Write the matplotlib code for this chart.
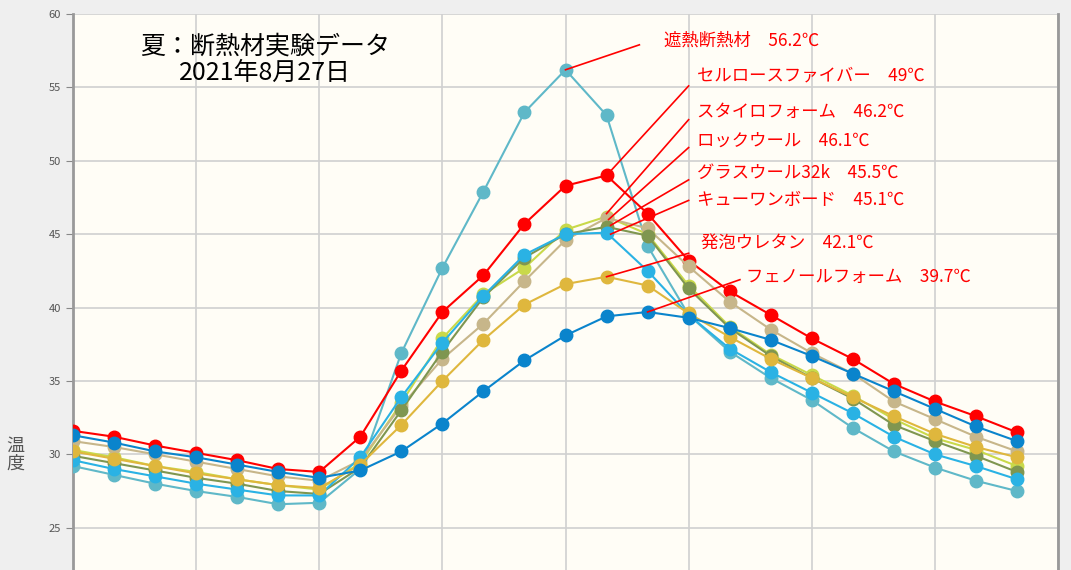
import matplotlib
matplotlib.use("Agg")
import matplotlib.pyplot as plt

plt.rcParams["font.family"] = "Noto Sans CJK JP"

hours = list(range(24))

names = ["遮熱断熱材", "セルロースファイバー", "スタイロフォーム", "ロックウール",
         "グラスウール32k", "キューワンボード", "発泡ウレタン", "フェノールフォーム"]
peaks = ["56.2℃", "49℃", "46.2℃", "46.1℃", "45.5℃", "45.1℃", "42.1℃", "39.7℃"]

shanetsu = [29.2, 28.6, 28.0, 27.5, 27.1, 26.6, 26.7, 29.0, 36.9, 42.7, 47.9, 53.3,
            56.2, 53.1, 44.2, 39.5, 37.0, 35.2, 33.7, 31.8, 30.2, 29.1, 28.2, 27.5]
cellulose = [31.6, 31.2, 30.6, 30.1, 29.6, 29.0, 28.8, 31.2, 35.7, 39.7, 42.2, 45.7,
             48.3, 49.0, 46.4, 43.2, 41.1, 39.5, 37.9, 36.5, 34.8, 33.6, 32.6, 31.5]
styro = [30.3, 29.8, 29.2, 28.8, 28.3, 27.9, 27.6, 29.4, 33.5, 37.9, 40.9, 42.7,
         45.3, 46.2, 45.0, 41.5, 38.7, 36.8, 35.4, 34.0, 32.4, 31.1, 30.3, 29.2]
rockwool = [30.9, 30.5, 30.0, 29.5, 29.0, 28.5, 28.2, 29.6, 33.3, 36.5, 38.9, 41.8,
            44.6, 46.1, 45.4, 42.8, 40.4, 38.5, 36.9, 35.5, 33.6, 32.4, 31.2, 30.2]
glasswool = [29.9, 29.4, 28.9, 28.4, 28.0, 27.5, 27.3, 29.1, 33.0, 37.0, 40.7, 43.4,
             45.0, 45.5, 44.9, 41.3, 38.6, 36.7, 35.2, 33.8, 32.0, 30.9, 29.9, 28.8]
q1board = [29.6, 29.0, 28.5, 28.0, 27.6, 27.2, 27.2, 29.8, 33.9, 37.6, 40.8, 43.6,
           45.0, 45.1, 42.5, 39.5, 37.2, 35.6, 34.2, 32.8, 31.2, 30.0, 29.2, 28.3]
urethane = [30.2, 29.7, 29.2, 28.7, 28.3, 27.9, 27.7, 29.3, 32.0, 35.0, 37.8, 40.2,
            41.6, 42.1, 41.5, 39.6, 38.0, 36.5, 35.2, 33.9, 32.6, 31.4, 30.5, 29.8]
phenol = [31.3, 30.8, 30.2, 29.8, 29.3, 28.8, 28.4, 28.9, 30.2, 32.1, 34.3, 36.4,
          38.1, 39.4, 39.7, 39.3, 38.6, 37.8, 36.7, 35.5, 34.3, 33.1, 31.9, 30.9]

series = [shanetsu, cellulose, styro, rockwool, glasswool, q1board, urethane, phenol]
colors = ["#5fb8c8", "#ff0000", "#c9d94a", "#c7b68a", "#7f9650", "#2ab2e4", "#dfb73d", "#0a84cc"]

# label text position (x, y) in data coords and the point each leader line hits
label_pos = [(14.4, 58.2), (15.2, 55.8), (15.2, 53.3), (15.2, 51.4), (15.2, 49.2),
             (15.2, 47.3), (15.3, 44.4), (16.4, 42.1)]
leader_from = [(13.8, 57.9), (15.0, 55.1), (15.0, 52.8), (15.0, 50.9), (15.0, 48.7),
               (15.0, 47.3), (15.0, 43.7), (16.25, 41.9)]
leader_to = [(12.0, 56.2), (13.0, 49.0), (13.0, 46.4), (13.05, 46.0), (13.1, 45.6),
             (13.1, 45.0), (13.0, 42.1), (14.0, 39.7)]

fig = plt.figure(figsize=(10.71, 5.70), dpi=100, facecolor="#efefef")
ax = fig.add_axes([73 / 1071, 0, (1058 - 73) / 1071, 1 - 14 / 570])
ax.set_facecolor("#fffdf6")

for vals, c in zip(series, colors):
    ax.plot(hours, vals, "-o", color=c, lw=1.5, ms=9, mec=c, zorder=3)

for name, pk, lp, lf, lt in zip(names, peaks, label_pos, leader_from, leader_to):
    ax.plot([lf[0], lt[0]], [lf[1], lt[1]], color="red", lw=1.2, zorder=4)
    ax.text(lp[0], lp[1], f"{name}　{pk}", color="red", fontsize=12.5,
            va="center", ha="left", zorder=5)

ax.text(0.195, 0.965, "夏：断熱材実験データ\n2021年8月27日", transform=ax.transAxes,
        ha="center", va="top", fontsize=18, linespacing=1.0)

ax.set_xlim(0, 24)
ax.set_ylim(22.12, 60)
ax.set_xticks(range(0, 25, 3))
ax.set_xticklabels([])
ax.set_yticks(range(25, 61, 5))
ax.tick_params(axis="y", labelsize=8, labelcolor="#555555", color="#888888", length=5)
ax.tick_params(axis="x", length=0)
ax.grid(True, color="#d0d0d0", lw=1.2)
for s in ["left", "right"]:
    ax.spines[s].set_color("#999999")
    ax.spines[s].set_linewidth(2)
ax.spines["top"].set_visible(False)
ax.spines["bottom"].set_visible(False)

fig.text(15 / 1071, 1 - 455 / 570, "温\n度", fontsize=13, color="#555555",
         ha="center", va="center", linespacing=1.0)

fig.savefig("out.png", dpi=100, facecolor=fig.get_facecolor())
